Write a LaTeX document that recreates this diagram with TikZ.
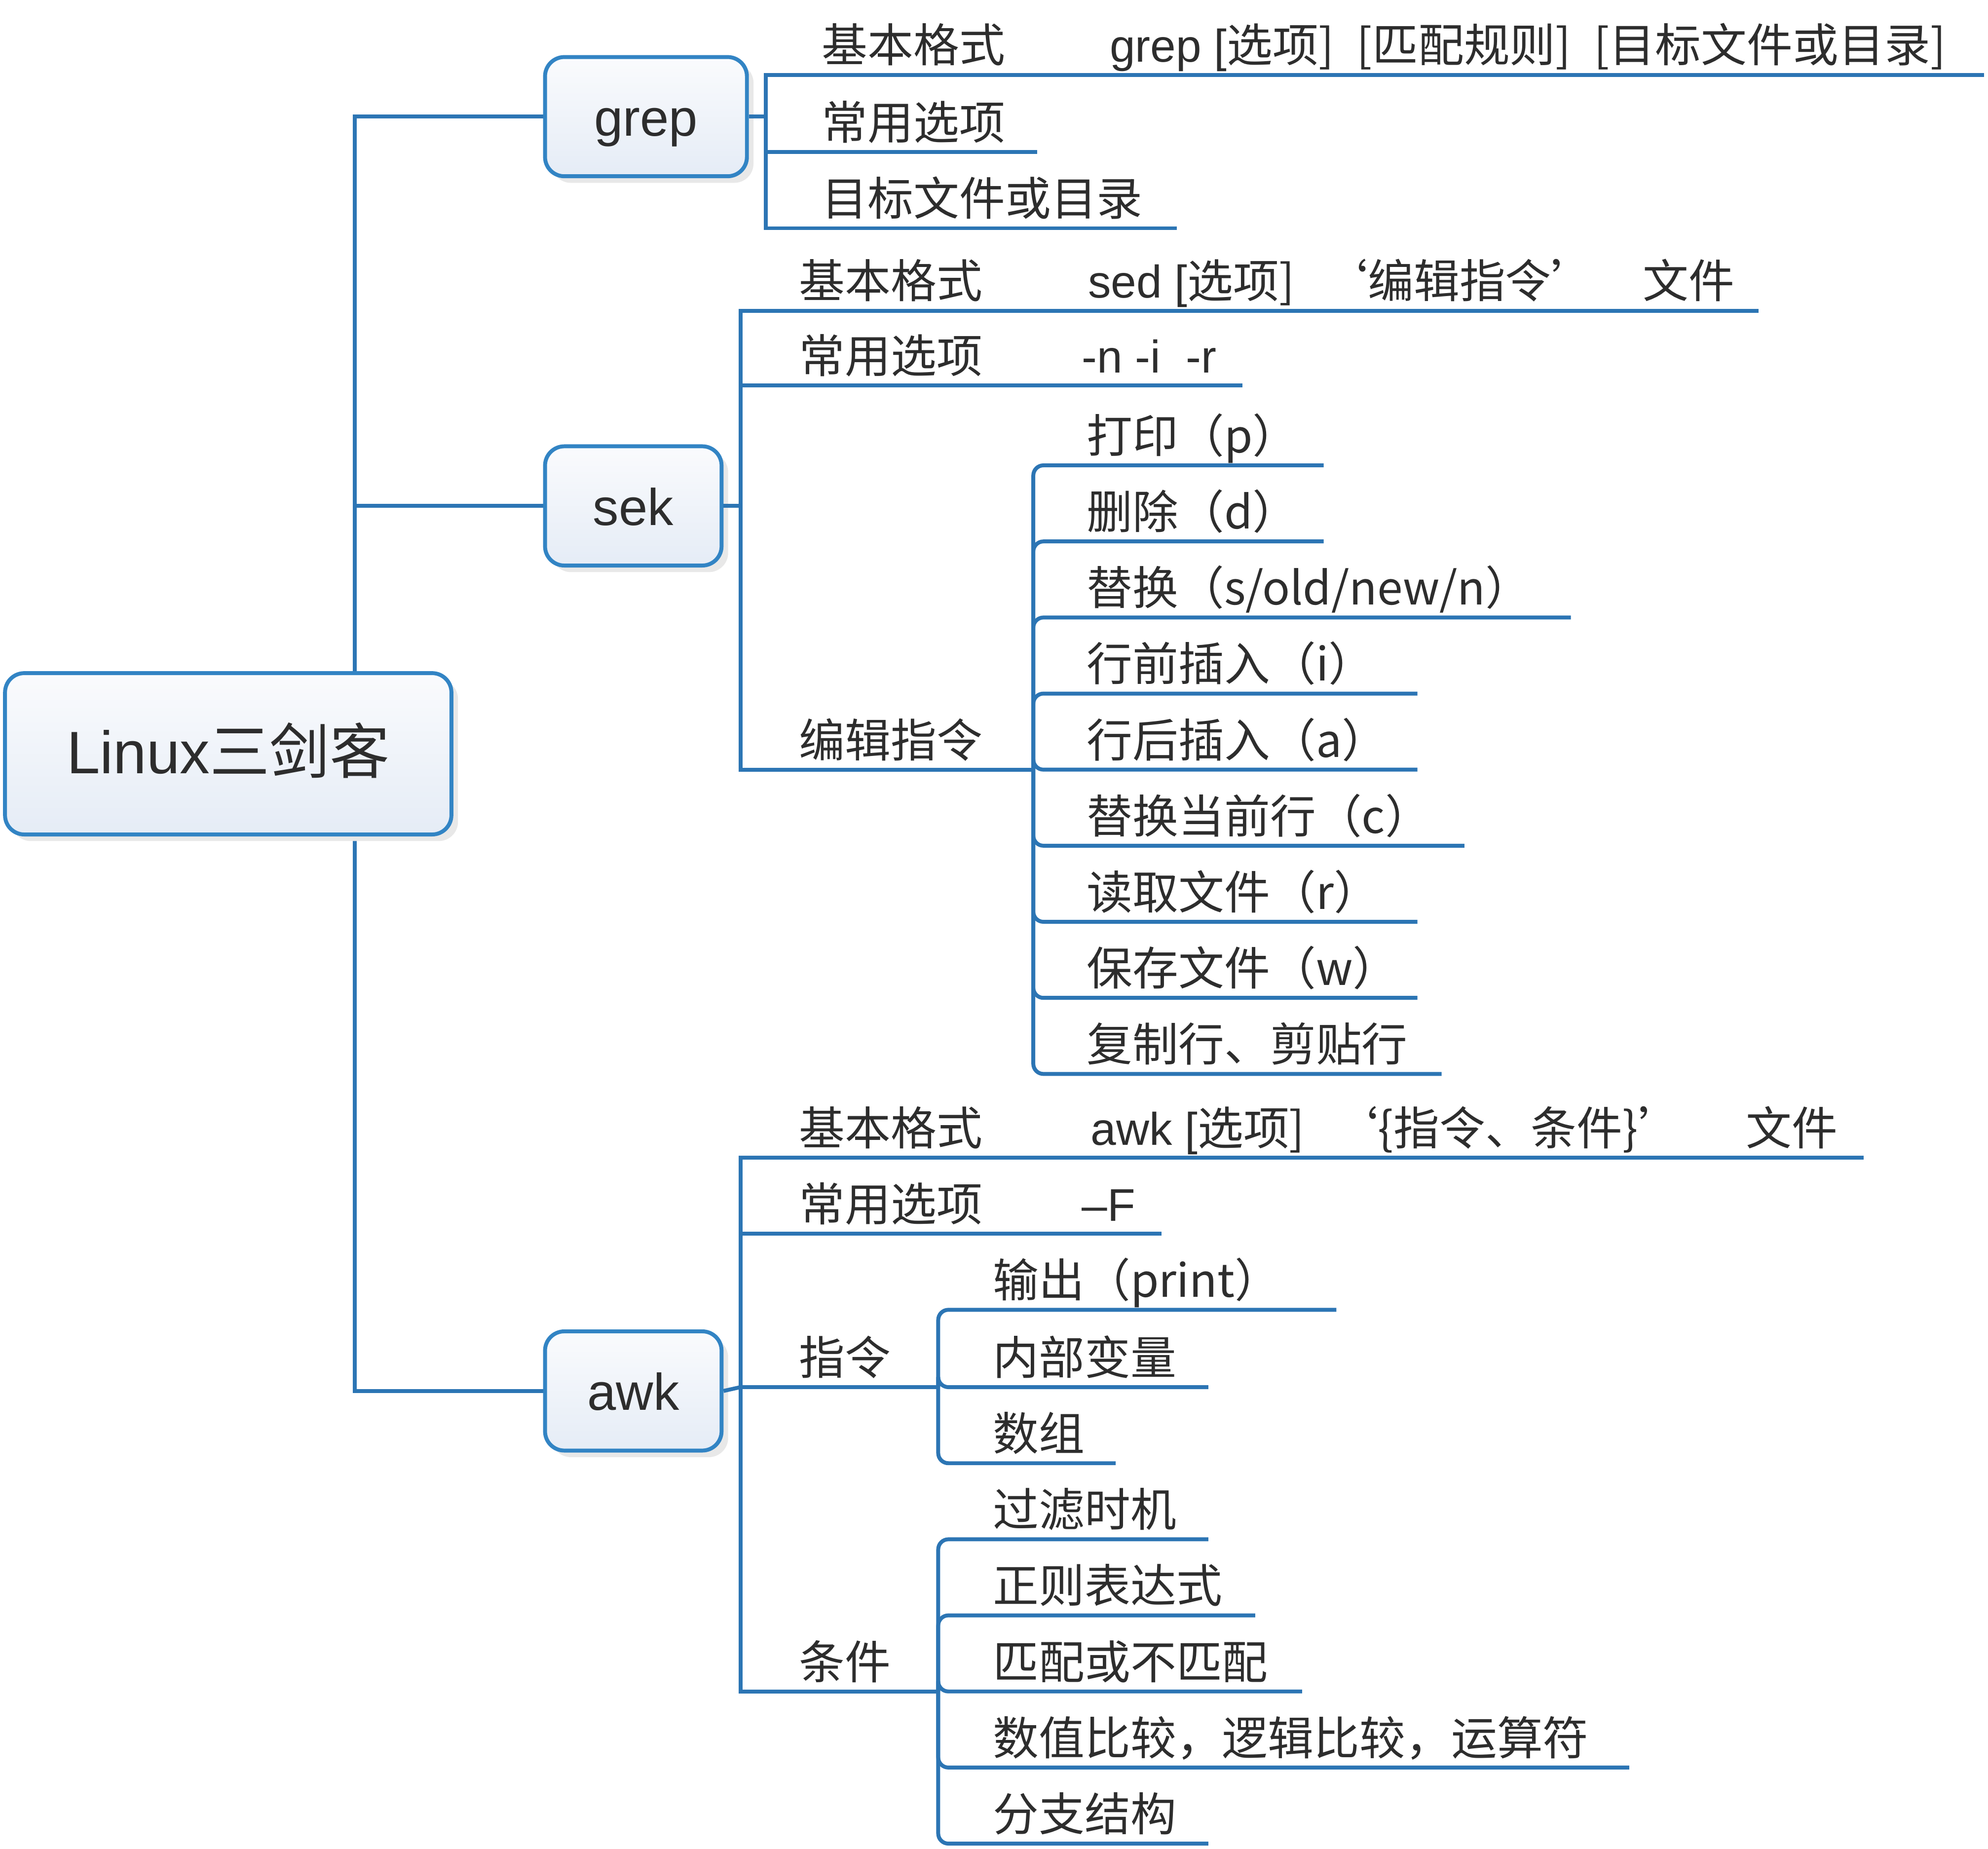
\documentclass[tikz,border=0pt]{standalone}
\usepackage{fontspec}
\setmainfont{Liberation Sans}
\newfontfamily\cjk{Noto Sans CJK SC}
\usetikzlibrary{positioning,shadows,backgrounds}

\definecolor{linblue}{RGB}{44,117,180}
\definecolor{boxblue}{RGB}{50,132,196}
\definecolor{boxtop}{RGB}{250,251,253}
\definecolor{boxbot}{RGB}{229,236,246}
\definecolor{txtgray}{RGB}{45,45,45}

\tikzset{
  branch/.style={draw=linblue, line width=2.2pt},
  twig/.style={branch, rounded corners=0.2cm},
  leaf/.style={anchor=base west, inner sep=0pt, text=txtgray,
    font=\cjk\fontsize{25.7}{30}\selectfont},
  topic/.style={draw=boxblue, line width=2.2pt, rounded corners=0.38cm,
    top color=boxtop, bottom color=boxbot, text=txtgray,
    minimum height=2.35cm, text height=21.5pt, text depth=0pt,
    font=\fontsize{29}{34}\selectfont,
    drop shadow={shadow xshift=0.13cm, shadow yshift=-0.13cm,
      fill=black!9, opacity=1}}
}

\begin{document}
\begin{tikzpicture}[x=0.025cm, y=-0.025cm]
    \useasboundingbox (0,0) rectangle (1568,1458);

    % the three tools and the root
    \node[topic, minimum width=8.8cm, minimum height=3.18cm, text height=22pt,
      font=\fontsize{33.6}{40}\selectfont] (root) at (180,594.5) {Linux{\cjk 三剑客}};
    \node[topic, minimum width=3.98cm] (grep) at (509.5,92) {grep};
    \node[topic, minimum width=3.48cm] (sek) at (499.5,399) {sek};
    \node[topic, minimum width=3.48cm] (awk) at (499.5,1097) {awk};

    \coordinate (trunk) at (280,594);
    \begin{scope}[on background layer]
        \draw[branch] (trunk) |- (grep.west);
        \draw[branch] (trunk) |- (sek.west);
        \draw[branch] (trunk) |- (awk.west);
    \end{scope}

    % grep
    \coordinate (gj) at (604,92);
    \draw[branch] (grep.east) -- (gj);
    \foreach \nm/\y/\xe/\txt in {gfmt/59/1565/基本格式, gopt/120/818/常用选项,
                                 gdir/180/928/目标文件或目录} {
        \node[leaf] (\nm) at (648,\y-10) {\txt};
        \coordinate (\nm-e) at (\xe,\y);
        \draw[branch] (gj) |- (\nm-e);
    }
    \node[leaf] (gfmt-v) at (875,49)
      {{\rmfamily grep [}选项]\hspace{0.5em}[匹配规则]\hspace{0.5em}[目标文件或目录]};

    % sek
    \coordinate (sj) at (584,399);
    \draw[branch] (sek.east) -- (sj);
    \foreach \nm/\y/\xe/\txt in {sfmt/245/1387/基本格式, sopt/304/980/常用选项,
                                 sedt/607/815/编辑指令} {
        \node[leaf] (\nm) at (630,\y-10) {\txt};
        \coordinate (\nm-e) at (\xe,\y);
        \draw[branch] (sj) |- (\nm-e);
    }
    \node[leaf] (sfmt-v) at (858,235)
      {{\rmfamily sed [}选项]\hspace{0.6em}‘编辑指令’\quad 文件};
    \node[leaf, font=\fontsize{25.7}{30}\selectfont] (sopt-v) at (853,294) {-n -i\ \ -r};

    % sed edit commands
    \foreach \y/\xe/\txt [count=\i] in {367/1044/打印（p）, 427/1044/删除（d）,
            487/1239/{替换（s/old/new/n）}, 547/1118/行前插入（i）,
            607/1118/行后插入（a）, 667/1155/替换当前行（c）,
            727/1118/读取文件（r）, 787/1118/保存文件（w）,
            847/1137/复制行、剪贴行} {
        \node[leaf] (ed\i) at (857,\y-10) {\txt};
        \coordinate (ed\i-e) at (\xe,\y);
        \draw[twig] (sedt-e) |- (ed\i-e);
    }

    % awk
    \coordinate (aj) at (584,1094);
    \draw[branch] (awk.east) -- (aj);
    \foreach \nm/\y/\xe/\txt in {afmt/913/1470/基本格式, aopt/973/916/常用选项,
                                 acmd/1094/740/指令, acnd/1334/740/条件} {
        \node[leaf] (\nm) at (630,\y-10) {\txt};
        \coordinate (\nm-e) at (\xe,\y);
        \draw[branch] (aj) |- (\nm-e);
    }
    \node[leaf] (afmt-v) at (860,903)
      {{\rmfamily awk [}选项]\hspace{0.6em}‘\{指令、条件\}’\hspace{1.35em}文件};
    \node[leaf, font=\fontsize{25.7}{30}\selectfont] (aopt-v) at (853,963) {--F};

    \foreach \y/\xe/\txt [count=\i] in {1033/1054/输出（print）, 1094/953/内部变量,
                                        1154/880/数组} {
        \node[leaf] (cm\i) at (783,\y-10) {\txt};
        \coordinate (cm\i-e) at (\xe,\y);
        \draw[twig] (acmd-e) |- (cm\i-e);
    }
    \foreach \y/\xe/\txt [count=\i] in {1214/953/过滤时机, 1274/990/正则表达式,
            1334/1027/匹配或不匹配, 1394/1285/数值比较，逻辑比较，运算符,
            1454/953/分支结构} {
        \node[leaf] (cd\i) at (783,\y-10) {\txt};
        \coordinate (cd\i-e) at (\xe,\y);
        \draw[twig] (acnd-e) |- (cd\i-e);
    }
\end{tikzpicture}
\end{document}
